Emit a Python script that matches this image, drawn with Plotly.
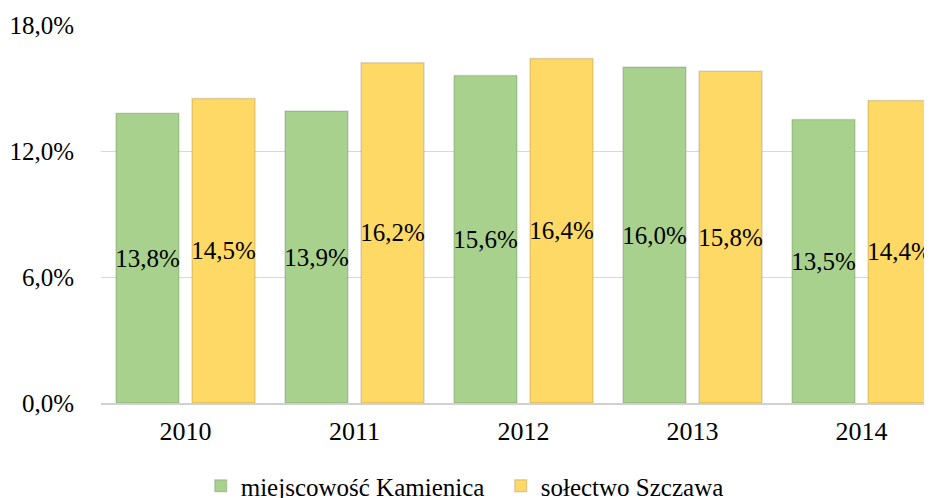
import plotly.graph_objects as go

years = ["2010", "2011", "2012", "2013", "2014"]
kamienica = [13.8, 13.9, 15.6, 16.0, 13.5]
szczawa = [14.5, 16.2, 16.4, 15.8, 14.4]
series_names = ["miejscowość Kamienica", "sołectwo Szczawa"]
y_ticks = [0, 6, 12, 18]

FONT = "Liberation Serif, Times New Roman, serif"
colors = ["#A9D18E", "#FFD966"]

# the page body has an 8px default margin; the figure is sized to fit the window
W, H, OFF = 924, 490, 8

fig = go.Figure()
for name, vals, col in zip(series_names, [kamienica, szczawa], colors):
    fig.add_trace(go.Bar(
        x=years,
        y=[v / 100 for v in vals],
        name=name,
        marker=dict(color=col, line=dict(color="rgba(0,0,0,0.13)", width=1.5)),
        texttemplate="%{y:.1%}",
        textposition="inside",
        insidetextanchor="middle",
        constraintext="none",
        textangle=0,
        cliponaxis=False,
        textfont=dict(family=FONT, size=25, color="black"),
        insidetextfont=dict(family=FONT, size=25, color="black"),
    ))

fig.update_layout(
    width=W, height=H,
    margin=dict(l=101 - OFF, r=0, t=25 - OFF, b=95, autoexpand=False),
    paper_bgcolor="white", plot_bgcolor="white",
    separators=", ",
    barmode="group",
    bargap=0.1,
    bargroupgap=0.171,
    font=dict(family=FONT, size=25, color="black"),
    showlegend=True,
    legend=dict(
        orientation="h",
        x=0.120, xanchor="left",
        yref="container",
        y=1 - (486 - OFF) / H, yanchor="middle",
        font=dict(family=FONT, size=25, color="black"),
        itemwidth=30,
        entrywidth=255,
        entrywidthmode="pixels",
        tracegroupgap=0,
    ),
    xaxis=dict(
        type="category",
        range=[-0.5, 4.417],
        automargin=False,
        showline=True, linecolor="#d0d0d0", linewidth=1.5,
        ticks="", showgrid=False, ticklabelstandoff=4,
        tickfont=dict(family=FONT, size=26, color="black"),
    ),
    yaxis=dict(
        range=[0, 0.18],
        automargin=False,
        tickvals=[t / 100 for t in y_ticks],
        tickformat=".1%",
        showgrid=True, gridcolor="#d9d9d9", gridwidth=1,
        zeroline=False, showline=False,
        ticks="", ticklabelstandoff=26,
        tickfont=dict(family=FONT, size=25, color="black"),
    ),
)

fig.write_html("out.html")
